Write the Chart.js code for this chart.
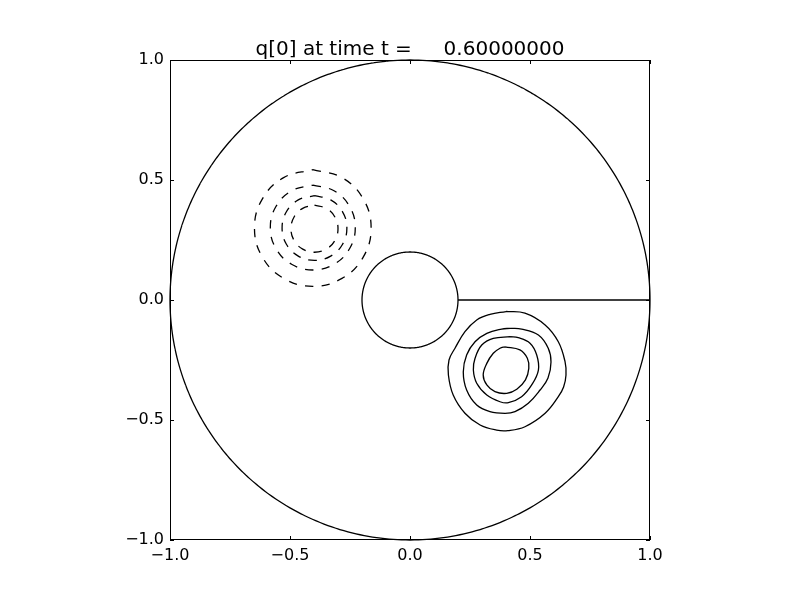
<!DOCTYPE html>
<html><head><meta charset="utf-8">
<script src="https://cdn.jsdelivr.net/npm/chart.js@4/dist/chart.umd.min.js"></script>
<style>html,body{margin:0;padding:0;background:#fff}</style>
</head><body>
<canvas id="c" width="800" height="600"></canvas>
<script>
const titleText = 'q[0] at time t =     0.60000000';
const xTickValues = [-1, -0.5, 0, 0.5, 1];
const xTickLabels = ['\u22121.0', '\u22120.5', '0.0', '0.5', '1.0'];
const yTickValues = [-1, -0.5, 0, 0.5, 1];
const yTickLabels = ['\u22121.0', '\u22120.5', '0.0', '0.5', '1.0'];

// domain boundary: outer unit circle and inner cylinder
const boundaryCenterX = [0, 0];
const boundaryCenterY = [0, 0];
const boundaryRadius = [1, 0.2];
// cut line
const cutLine = [[0.2, 0], [1, 0]];

// positive contours (solid)
const posContour1 = [[0.400,-0.048],[0.479,-0.055],[0.563,-0.104],[0.618,-0.174],[0.646,-0.257],[0.650,-0.3125],[0.640,-0.3625],[0.618,-0.403],[0.563,-0.472],[0.479,-0.528],[0.408,-0.544],[0.361,-0.542],[0.292,-0.521],[0.229,-0.472],[0.180,-0.396],[0.160,-0.3125],[0.1625,-0.25],[0.1875,-0.201],[0.229,-0.132],[0.278,-0.083],[0.333,-0.060],[0.400,-0.048]];
const posContour2 = [[0.417,-0.118],[0.465,-0.121],[0.535,-0.146],[0.576,-0.201],[0.5875,-0.258],[0.575,-0.325],[0.542,-0.375],[0.493,-0.430],[0.4375,-0.465],[0.396,-0.472],[0.333,-0.465],[0.278,-0.4375],[0.236,-0.375],[0.222,-0.300],[0.236,-0.229],[0.271,-0.174],[0.320,-0.139],[0.382,-0.121],[0.417,-0.118]];
const posContour3 = [[0.417,-0.153],[0.451,-0.157],[0.500,-0.180],[0.528,-0.229],[0.535,-0.292],[0.507,-0.354],[0.465,-0.403],[0.410,-0.428],[0.375,-0.424],[0.320,-0.396],[0.278,-0.347],[0.264,-0.292],[0.271,-0.243],[0.299,-0.1875],[0.347,-0.160],[0.417,-0.153]];
const posContour4 = [[0.396,-0.195],[0.458,-0.208],[0.489,-0.243],[0.495,-0.285],[0.481,-0.333],[0.445,-0.372],[0.403,-0.389],[0.354,-0.382],[0.320,-0.354],[0.305,-0.3125],[0.320,-0.264],[0.347,-0.222],[0.375,-0.201],[0.396,-0.195]];

// negative contours (dashed)
const negContour1 = [[-0.405,0.543],[-0.2835,0.510],[-0.195,0.4215],[-0.162,0.300],[-0.195,0.1785],[-0.2835,0.090],[-0.405,0.057],[-0.5265,0.090],[-0.615,0.1785],[-0.648,0.300],[-0.615,0.4215],[-0.5265,0.510],[-0.405,0.543]];
const negContour2 = [[-0.405,0.479],[-0.3165,0.455],[-0.252,0.3905],[-0.228,0.302],[-0.252,0.2135],[-0.3165,0.149],[-0.405,0.125],[-0.4935,0.149],[-0.558,0.2135],[-0.582,0.302],[-0.558,0.3905],[-0.4935,0.455],[-0.405,0.479]];
const negContour3 = [[-0.398,0.435],[-0.3305,0.417],[-0.281,0.3675],[-0.263,0.300],[-0.281,0.2325],[-0.3305,0.183],[-0.398,0.165],[-0.4655,0.183],[-0.515,0.2325],[-0.533,0.300],[-0.515,0.3675],[-0.4655,0.417],[-0.398,0.435]];
const negContour4 = [[-0.398,0.395],[-0.349,0.382],[-0.313,0.346],[-0.300,0.297],[-0.313,0.248],[-0.349,0.212],[-0.398,0.199],[-0.447,0.212],[-0.483,0.248],[-0.496,0.297],[-0.483,0.346],[-0.447,0.382],[-0.398,0.395]];

const FONT = 'DejaVu Sans';
const toPts = arr => arr.map(([x, y]) => ({x, y}));

const datasets = [];
for (let k = 0; k < boundaryRadius.length; k++) {
  const pts = [];
  const n = 360;
  for (let i = 0; i <= n; i++) {
    const a = 2 * Math.PI * i / n;
    pts.push({x: boundaryCenterX[k] + boundaryRadius[k] * Math.cos(a), y: boundaryCenterY[k] + boundaryRadius[k] * Math.sin(a)});
  }
  datasets.push({data: pts, tension: 0.000001, borderWidth: 1.3});
}
datasets.push({data: toPts(cutLine), tension: 0.000001, borderWidth: 1.3});
[posContour1, posContour2, posContour3, posContour4].forEach(c => datasets.push({data: toPts(c), tension: 0.4, borderWidth: 1.3}));
[negContour1, negContour2, negContour3, negContour4].forEach(c => datasets.push({data: toPts(c), tension: 0.4, borderWidth: 1.3, borderDash: [8.3, 8.3]}));
datasets.forEach(d => Object.assign(d, {showLine: true, pointRadius: 0, borderColor: '#000', fill: false, clip: false}));

const framePlugin = {
  id: 'frame',
  afterDatasetsDraw(chart) {
    const {ctx, chartArea: a, scales} = chart;
    ctx.save();
    ctx.strokeStyle = '#000';
    ctx.lineWidth = 1;
    ctx.strokeRect(a.left + 0.5, a.top + 0.5, a.right - a.left - 1, a.bottom - a.top - 1);
    const L = 4;
    ctx.beginPath();
    xTickValues.forEach(v => {
      const px = Math.round(scales.x.getPixelForValue(v)) + 0.5;
      ctx.moveTo(px, a.bottom); ctx.lineTo(px, a.bottom - L);
      ctx.moveTo(px, a.top); ctx.lineTo(px, a.top + L);
    });
    yTickValues.forEach(v => {
      const py = Math.round(scales.y.getPixelForValue(v)) + 0.5;
      ctx.moveTo(a.left, py); ctx.lineTo(a.left + L, py);
      ctx.moveTo(a.right, py); ctx.lineTo(a.right - L, py);
    });
    ctx.stroke();
    // title centred over the plot area
    ctx.fillStyle = '#000';
    ctx.font = '20px "' + FONT + '"';
    ctx.textAlign = 'center';
    ctx.textBaseline = 'alphabetic';
    ctx.fillText(titleText, (a.left + a.right) / 2, a.top - 5);
    ctx.restore();
  }
};

new Chart(document.getElementById('c'), {
  type: 'scatter',
  data: {datasets},
  options: {
    responsive: false,
    animation: false,
    devicePixelRatio: 1,
    layout: {padding: {left: 0, right: 150, top: 60, bottom: 0}},
    plugins: {
      legend: {display: false},
      tooltip: {enabled: false},
      title: {display: false}
    },
    scales: {
      x: {
        type: 'linear', position: 'bottom', min: -1, max: 1,
        grid: {display: false, drawTicks: false}, border: {display: false},
        afterBuildTicks: s => { s.ticks = xTickValues.map(v => ({value: v})); },
        afterFit: s => { s.height = 60; },
        ticks: {color: '#000', font: {family: FONT, size: 16}, padding: 6, maxRotation: 0, autoSkip: false,
          callback: (v, i) => xTickLabels[i]}
      },
      y: {
        type: 'linear', position: 'left', min: -1, max: 1,
        grid: {display: false, drawTicks: false}, border: {display: false},
        afterBuildTicks: s => { s.ticks = yTickValues.map(v => ({value: v})); },
        afterFit: s => { s.width = 170; },
        ticks: {color: '#000', font: {family: FONT, size: 16}, padding: 6, autoSkip: false,
          callback: (v, i) => yTickLabels[i]}
      }
    }
  },
  plugins: [framePlugin]
});
</script>
</body></html>
